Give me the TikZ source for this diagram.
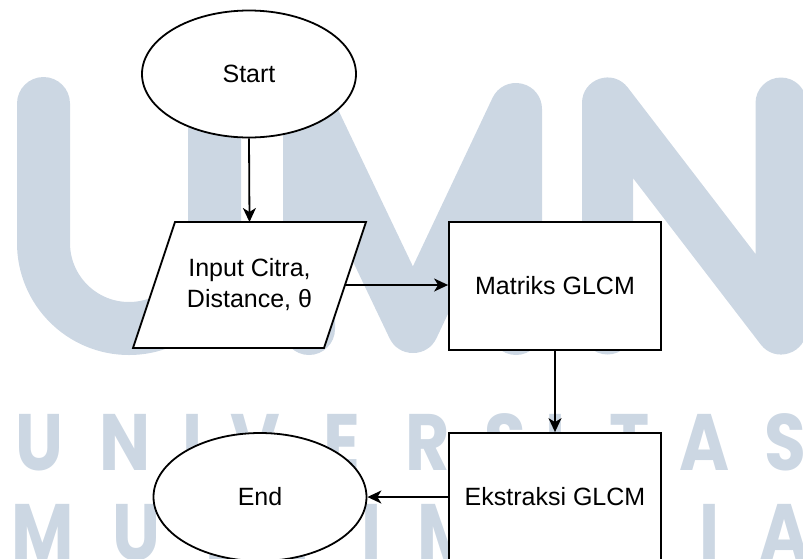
\documentclass[tikz,border=0pt]{standalone}
\usepackage{fontspec}
\setmainfont{Liberation Sans}
\newfontfamily\wmfont{Poppins}
\usetikzlibrary{arrows.meta,shapes.geometric,calc}
\definecolor{wmblue}{RGB}{204,215,227}
\begin{document}
\begin{tikzpicture}[x=1pt,y=-1pt,
  box/.style={draw=black, line width=1.8pt, fill=white},
  lbl/.style={font=\fontsize{25}{31}\selectfont, align=center},
  arr/.style={draw=black, line width=1.8pt, -{Stealth[length=14pt,width=13pt,inset=4pt]}},
  wmstroke/.style={draw=wmblue, line cap=round, line join=round},
  wmletter/.style={text=wmblue, font=\wmfont\bfseries\fontsize{80}{80}\selectfont, anchor=base, inner sep=0pt, xscale=0.85}
]
\useasboundingbox (0,0) rectangle (803,558);
\clip (0,0) rectangle (803,558);

% watermark: big UMN
\draw[wmstroke, line width=53pt] (43.5,103.5) -- (43.5,243) arc[start angle=180, end angle=360, radius=85.5pt] -- (214.5,103.5);
\draw[wmstroke, line width=52pt] (309,329) -- (309,109) -- (413,327) -- (516,109) -- (516,329);
\draw[wmstroke, line width=51pt] (607.5,329) -- (607.5,103) -- (781,329) -- (781,103);

% watermark: UNIVERSITAS / MULTIMEDIA
\foreach \c/\x [count=\i] in {U/39.5, N/125, I/193, V/255, E/342, R/428, S/505, I/556, T/630, A/705, S/785}
  \node[wmletter] (ra\i) at (\x,470) {\c};
\foreach \c/\x [count=\i] in {M/42.5, U/136.5, L/222, T/300, I/372, M/449, E/540, D/625, I/710, A/785}
  \node[wmletter] (rb\i) at (\x,560) {\c};

% flowchart
\node[box, ellipse, minimum width=214, minimum height=127, lbl] (start) at (249,74) {Start};

\coordinate (p1) at (175,222);
\coordinate (p2) at (366,222);
\coordinate (p3) at (324,348);
\coordinate (p4) at (133,348);
\draw[box] (p1) -- (p2) -- (p3) -- (p4) -- cycle;
\node[lbl, minimum width=191, minimum height=126, inner sep=0pt, outer sep=0pt] (in) at (249.5,285) {Input Citra,\\Distance, θ};

\node[box, minimum width=212, minimum height=128, lbl] (mat) at (555,286) {Matriks GLCM};
\node[box, minimum width=212, minimum height=128, lbl] (eks) at (555,497) {Ekstraksi GLCM};
\node[box, ellipse, minimum width=213, minimum height=128, lbl] (end) at (260,497) {End};

\draw[arr] (start.south) -- (in.north);
\draw[arr] (in.east) -- (in.east -| mat.west);
\draw[arr] (mat.south) -- (eks.north);
\draw[arr] (eks.west) -- (end.east);
\end{tikzpicture}
\end{document}
